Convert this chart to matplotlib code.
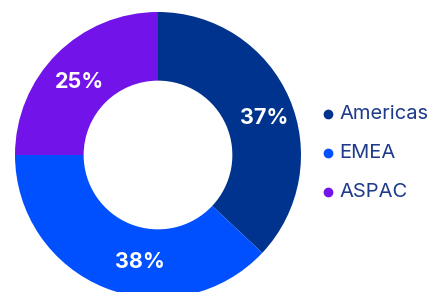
import matplotlib
matplotlib.use("Agg")
import matplotlib.pyplot as plt
import numpy as np

regions = ["Americas", "EMEA", "ASPAC"]
shares = [37, 38, 25]
colors = ["#00338D", "#0050FF", "#7213EA"]

plt.rcParams['font.family'] = ['Inter', 'DejaVu Sans']

W, H = 432, 292
fig = plt.figure(figsize=(W / 100, H / 100), dpi=100)
ax = fig.add_axes([0, 0, 1, 1])

R = 143.0
cx, cy = 158.0, 155.0  # pixel center from top-left
width = 0.48
wedges, _ = ax.pie(shares, colors=colors, startangle=90, counterclock=False,
                   radius=1.0, wedgeprops=dict(width=width, linewidth=0))
ax.set_aspect('auto')
ax.set_xlim(-cx / R, (W - cx) / R)
ax.set_ylim(-(H - cy) / R, cy / R)
ax.axis('off')

# label placement (radius fraction, clockwise angle from top in degrees)
label_pos = [(0.785, 70.8), (0.76, 189.5), (0.75, 313.0)]
for v, (r, a) in zip(shares, label_pos):
    t = np.deg2rad(a)
    ax.text(r * np.sin(t), r * np.cos(t), f"{v}%", color="white", fontsize=15.5,
            fontweight="bold", ha="center", va="center")

legend_y = [114, 153, 192]
for lab, col, py in zip(regions, colors, legend_y):
    fig.lines.append(plt.Line2D([328 / W], [1 - py / H], transform=fig.transFigure,
                                marker='o', markersize=6, color=col, linestyle='none'))
    fig.text(339 / W, 1 - py / H, lab, color="#1E3A8A", fontsize=14.5,
             ha="left", va="center")

fig.savefig("out.png", dpi=100)
